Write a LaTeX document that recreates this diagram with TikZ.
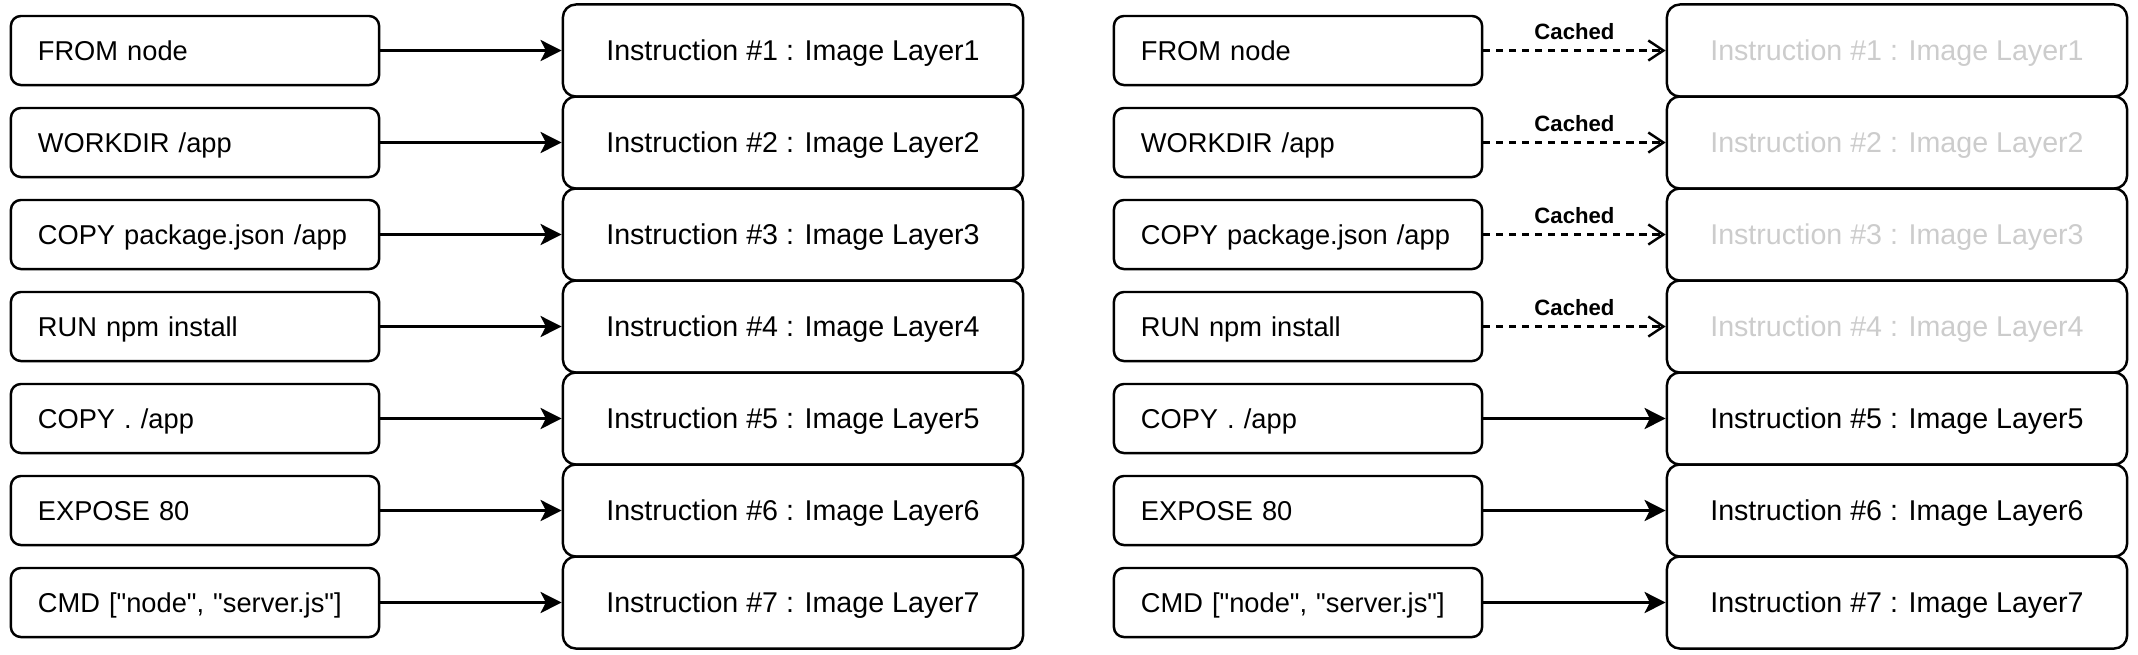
\documentclass[tikz,border=0pt]{standalone}
\usepackage{fontspec}
\setmainfont{Liberation Sans}
\usetikzlibrary{arrows.meta}
\definecolor{cachedgray}{RGB}{204,204,204}
\begin{document}
\begin{tikzpicture}[x=0.01cm,y=-0.01cm,
  cmdbox/.style={draw, line width=0.7pt, rounded corners=0.1cm, minimum width=3.68cm, minimum height=0.69cm, inner xsep=0.27cm, inner ysep=0pt, text width=3.14cm, align=left, text height=5.7pt, text depth=0pt, font=\fontsize{7.75pt}{10pt}\selectfont},
  layerbox/.style={draw, line width=0.7pt, rounded corners=0.13cm, minimum width=4.6cm, minimum height=0.92cm, inner sep=0pt, align=center, text height=5.9pt, text depth=0pt, font=\fontsize{8.14pt}{10pt}\selectfont},
  cachedtext/.style={text=cachedgray},
  solidarrow/.style={line width=0.7pt, -{Stealth[length=6pt,width=6pt,inset=1.5pt]}},
  cachedarrow/.style={line width=0.7pt, dash pattern=on 2pt off 1.7pt, -{Straight Barb[length=4.3pt,width=5.7pt]}},
  cachedlabel/.style={font=\bfseries\fontsize{6.3pt}{7pt}\selectfont, inner sep=0pt}
]
\useasboundingbox (0,0) rectangle (2138,654);
\foreach \i/\txt in {1/{FROM node}, 2/{WORKDIR /app}, 3/{COPY package.json /app}, 4/{RUN npm install}, 5/{COPY . /app}, 6/{EXPOSE 80}, 7/{CMD [\textquotedbl node\textquotedbl, \textquotedbl server.js\textquotedbl]}} {
  \pgfmathsetmacro{\yc}{50.5+92*(\i-1)}
  % left group
  \node[cmdbox] (L\i) at (195,\yc) {\mbox{\txt}};
  \node[layerbox] (I\i) at (793,\yc) {Instruction \#\i{} : Image Layer\i};
  \draw[solidarrow] (L\i.east) -- (I\i.west);
  % right group
  \node[cmdbox] (R\i) at (1298,\yc) {\mbox{\txt}};
  \ifnum\i<5
    \node[layerbox, cachedtext] (J\i) at (1897,\yc) {Instruction \#\i{} : Image Layer\i};
    \draw[cachedarrow] (R\i.east) -- node[cachedlabel, midway, above=0.1cm] (C\i) {Cached} (J\i.west);
  \else
    \node[layerbox] (J\i) at (1897,\yc) {Instruction \#\i{} : Image Layer\i};
    \draw[solidarrow] (R\i.east) -- (J\i.west);
  \fi
}
\end{tikzpicture}
\end{document}
